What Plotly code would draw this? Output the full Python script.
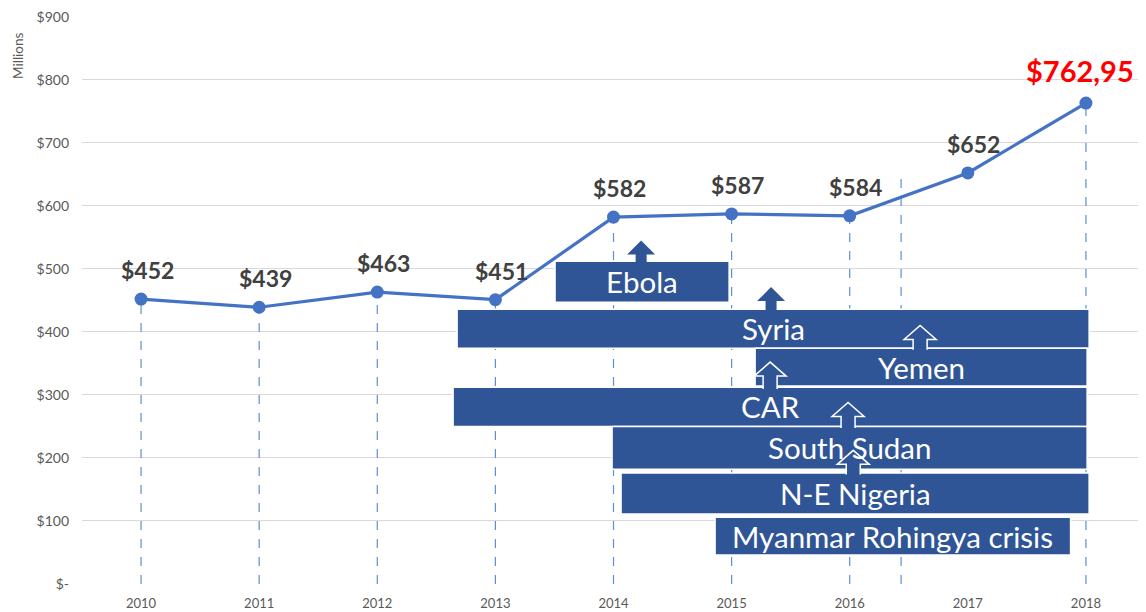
import plotly.graph_objects as go

# ---------------- data ----------------
years = [2010, 2011, 2012, 2013, 2014, 2015, 2016, 2017, 2018]
values = [452, 439, 463, 451, 582, 587, 584, 652, 762.95]
value_labels = ["$452", "$439", "$463", "$451", "$582", "$587", "$584", "$652", "$762,95"]
# x position of each dashed drop line (the 2017 one is drawn off-position in the original)
dropline_x = [2010, 2011, 2012, 2013, 2014, 2015, 2016, 2016.435, 2018]

y_ticks = [0, 100, 200, 300, 400, 500, 600, 700, 800, 900]
y_tick_text = ["$-", "$100", "$200", "$300", "$400", "$500", "$600", "$700", "$800", "$900"]

crisis_names = ["Ebola", "Syria", "Yemen", "CAR", "South Sudan", "N-E Nigeria", "Myanmar Rohingya crisis"]
crisis_x0 = [2013.505, 2012.676, 2015.199, 2012.642, 2013.988, 2014.064, 2014.860]
crisis_x1 = [2014.979, 2018.027, 2018.010, 2018.010, 2018.010, 2018.027, 2017.870]
crisis_y0 = [447, 374, 314, 250, 182, 111, 46]
crisis_y1 = [512, 436, 374, 312, 250, 176, 106]

# arrows: x centre, base value, tip value, style
arrow_x = [2014.234, 2015.334, 2016.596, 2015.326, 2015.986, 2016.030]
arrow_base = [512, 436, 374, 312, 250, 176]
arrow_tip = [545, 471, 410, 352, 288, 212]
arrow_solid = [True, True, False, False, False, False]

# ---------------- styling ----------------
LINE_BLUE = "#4472C4"
BOX_BLUE = "#2F5597"
DROP_BLUE = "#5B8FD6"
GRID = "#D9D9D9"
TEXT_GRAY = "#595959"
FONT = "Lato, 'Open Sans', sans-serif"

PX_X = 1.0 / 118.1   # data units of x per pixel
PX_Y = 900 / 568.0   # data units of y per pixel

fig = go.Figure()

shapes = []
# drop lines
for xd, v in zip(dropline_x, values):
    shapes.append(dict(type="line", layer="between", x0=xd, x1=xd, y0=0, y1=v,
                       line=dict(color=DROP_BLUE, width=1.2, dash="dash")))
# crisis boxes
for x0, x1, y0, y1 in zip(crisis_x0, crisis_x1, crisis_y0, crisis_y1):
    shapes.append(dict(type="rect", layer="between", x0=x0, x1=x1, y0=y0, y1=y1,
                       fillcolor=BOX_BLUE, line=dict(color="white", width=1.5)))
# arrows
for xc, yb, yt, solid in zip(arrow_x, arrow_base, arrow_tip, arrow_solid):
    hw = (14 if solid else 16) * PX_X
    sw = (5.5 if solid else 7) * PX_X
    hh = 14 * PX_Y
    ybe = yb - 2.5
    pts = [(xc - sw, ybe), (xc - sw, yt - hh), (xc - hw, yt - hh), (xc, yt),
           (xc + hw, yt - hh), (xc + sw, yt - hh), (xc + sw, ybe)]
    path = "M " + " L ".join(f"{px:.4f},{py:.3f}" for px, py in pts)
    if solid:
        path += " Z"
        line = dict(color=BOX_BLUE, width=0)
    else:
        line = dict(color="white", width=1.5)
    shapes.append(dict(type="path", layer="between", path=path,
                       fillcolor=BOX_BLUE, line=line))

fig.add_trace(go.Scatter(
    x=years, y=values, mode="lines+markers",
    line=dict(color=LINE_BLUE, width=3.2),
    marker=dict(color=LINE_BLUE, size=13),
    hoverinfo="x+y", showlegend=False))

annotations = []
for i, (x, v, lab) in enumerate(zip(years, values, value_labels)):
    last = i == len(years) - 1
    annotations.append(dict(
        x=x, y=v, text=lab, showarrow=False, xanchor="center", yanchor="middle",
        xshift=-6 if last else 6, yshift=33 if last else 29,
        font=dict(family=FONT, size=29 if last else 23,
                  color="#FF0000" if last else "#404040", weight="bold")))

for name, x0, x1, y0, y1 in zip(crisis_names, crisis_x0, crisis_x1, crisis_y0, crisis_y1):
    annotations.append(dict(
        x=(x0 + x1) / 2, y=(y0 + y1) / 2, text=name, showarrow=False,
        xanchor="center", yanchor="middle",
        font=dict(family=FONT, size=29.5, color="white")))

annotations.append(dict(
    xref="paper", yref="paper", x=-0.06, y=0.93, text="Millions", textangle=-90,
    xanchor="center", yanchor="middle",
    showarrow=False, font=dict(family=FONT, size=13.5, color=TEXT_GRAY)))

# page body has an 8px margin, so the figure is 8px smaller and margins reduced
fig.update_layout(
    width=1138, height=604,
    margin=dict(l=74, r=1, t=8, b=28),
    paper_bgcolor="white", plot_bgcolor="white",
    shapes=shapes, annotations=annotations,
    xaxis=dict(range=[2009.5, 2018.5], tickvals=years, ticktext=[str(y) for y in years],
               showgrid=False, zeroline=False, showline=False, automargin=False,
               ticklabelstandoff=10, ticklabeloverflow="allow",
               tickfont=dict(family=FONT, size=13, color=TEXT_GRAY), ticks=""),
    yaxis=dict(range=[0, 901], tickvals=y_ticks, ticktext=y_tick_text,
               showgrid=True, gridcolor=GRID, gridwidth=1, zeroline=False,
               showline=False, ticks="", ticklabelstandoff=12, automargin=False,
               ticklabeloverflow="allow",
               tickfont=dict(family=FONT, size=14, color=TEXT_GRAY)),
    showlegend=False,
)

fig.write_html("out.html")
